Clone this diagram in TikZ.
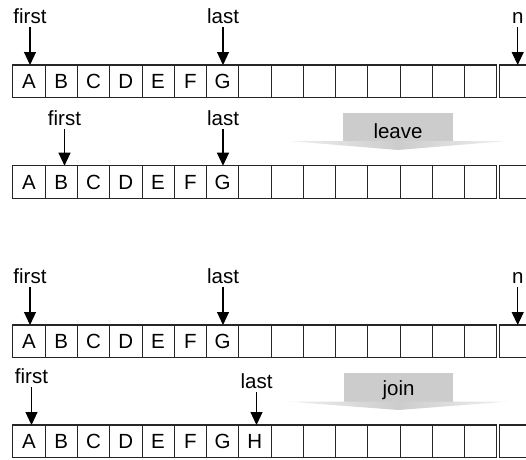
\documentclass[tikz,border=0pt]{standalone}
\usepackage{fontspec}
\setmainfont{Liberation Sans}
\usetikzlibrary{arrows.meta}

\tikzset{
  cell/.style={minimum width=32.25pt, minimum height=32.3pt,
    inner sep=0pt, anchor=north west, font=\fontsize{20.5}{24}\selectfont},
  frame/.style={draw=black!85, line width=1.1pt},
  lbl/.style={anchor=base, inner sep=3.5pt, font=\fontsize{20.5}{24}\selectfont},
  ptr/.style={-{Triangle[length=13pt,width=12pt]}, line width=1.1pt},
  band/.style={fill=black!20}
}

\begin{document}
\begin{tikzpicture}[x=1pt,y=-1pt]
    \useasboundingbox (0,0) rectangle (526,459);

    % Draw the four rows of cells
    \foreach \row/\top/\len in {1/65/7, 2/165.7/7, 3/325/7, 4/425/8} {
      \foreach \l [count=\i] in {A,B,C,D,E,F,G,H,,,,,,,} {
        \node[cell] (r\row c\i) at (12.7+32.25*\i-32.25,\top) {\ifnum\i>\len\else\l\fi};
      }
      \node[cell, minimum width=37pt] (r\row n) at (499.6,\top) {};
      \draw[frame] (r\row c1.north west) rectangle (r\row c15.south east);
      \foreach \i in {1,...,14}
        \draw[frame] (r\row c\i.north east) -- (r\row c\i.south east);
      \draw[frame] (r\row n.north east) -- (r\row n.north west)
        -- (r\row n.south west) -- (r\row n.south east);
    }

    % Pointers, first row
    \node[lbl] (f1) at (30,23) {first};
    \node[lbl] (l1) at (223,23) {last};
    \node[lbl] (n1) at (517.7,23) {n};
    \draw[ptr] (f1) -- (f1 |- r1c1.north);
    \draw[ptr] (l1) -- (l1 |- r1c7.north);
    \draw[ptr] (n1) -- (n1 |- r1n.north);

    % Pointers, second row
    \node[lbl] (f2) at (64.5,125) {first};
    \node[lbl] (l2) at (223,125) {last};
    \draw[ptr] (f2) -- (f2 |- r2c2.north);
    \draw[ptr] (l2) -- (l2 |- r2c7.north);

    % Pointers, third row
    \node[lbl] (f3) at (30,283.3) {first};
    \node[lbl] (l3) at (223,283.3) {last};
    \node[lbl] (n3) at (517.7,283.3) {n};
    \draw[ptr] (f3) -- (f3 |- r3c1.north);
    \draw[ptr] (l3) -- (l3 |- r3c7.north);
    \draw[ptr] (n3) -- (n3 |- r3n.north);

    % Pointers, fourth row
    \node[lbl] (f4) at (31.5,383.3) {first};
    \node[lbl] (l4) at (256.5,388.3) {last};
    \draw[ptr] (f4) -- (f4 |- r4c1.north);
    \draw[ptr] (l4) -- (l4 |- r4c8.north);

    % Wide gray arrows
    \fill[band] (343.3,112.7) rectangle (452.7,141);
    \shade[left color=black!6, right color=black!6, middle color=black!20]
      (289,141) -- (507,141) -- (398,150) -- cycle;
    \node[lbl, inner sep=0pt] (leave) at (398,138) {leave};

    \fill[band] (344,372.7) rectangle (453.3,401.7);
    \shade[left color=black!6, right color=black!6, middle color=black!20]
      (289,401.7) -- (507,401.7) -- (398.5,410) -- cycle;
    \node[lbl, inner sep=0pt] (join) at (398.5,395) {join};
\end{tikzpicture}
\end{document}
